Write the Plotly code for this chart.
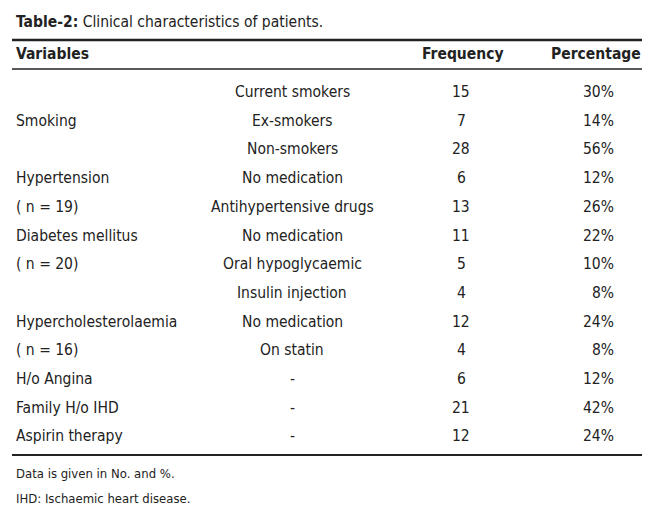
import plotly.graph_objects as go

title_bold = "Table-2:"
title_rest = " Clinical characteristics of patients."
headers = ["Variables", "Frequency", "Percentage"]
groups = ["Smoking", "Hypertension", "( n = 19)", "Diabetes mellitus", "( n = 20)",
          "Hypercholesterolaemia", "( n = 16)", "H/o Angina", "Family H/o IHD", "Aspirin therapy"]
group_rows = [1, 3, 4, 5, 6, 8, 9, 10, 11, 12]
subcats = ["Current smokers", "Ex-smokers", "Non-smokers", "No medication", "Antihypertensive drugs",
           "No medication", "Oral hypoglycaemic", "Insulin injection", "No medication", "On statin",
           "-", "-", "-"]
freq = [15, 7, 28, 6, 13, 11, 5, 4, 12, 4, 6, 21, 12]
pct = [30, 14, 56, 12, 26, 22, 10, 8, 24, 8, 12, 42, 24]
notes = ["Data is given in No. and %.", "IHD: Ischaemic heart disease."]

FONT = "DejaVu Sans Condensed, Liberation Sans Narrow, sans-serif"
C = "#222222"
y0, dy = 84, 28.7
fig = go.Figure()
ann = []
def t(x, y, s, anchor="left", size=15.5):
    ann.append(dict(x=x, y=y, text=s, showarrow=False, xanchor=anchor, yanchor="middle",
                    font=dict(family=FONT, size=size, color=C)))
t(6, 14, f"<b>{title_bold}</b>{title_rest}")
t(6, 46, f"<b>{headers[0]}</b>")
t(455, 46, f"<b>{headers[1]}</b>", "center")
t(588, 46, f"<b>{headers[2]}</b>", "center")
for g, r in zip(groups, group_rows):
    t(6, y0 + r * dy, g)
for i, (s, f, p) in enumerate(zip(subcats, freq, pct)):
    y = y0 + i * dy
    t(284, y, s, "center")
    t(453, y, str(f), "center")
    t(608, y, f"{p}%", "right")
t(6, 465, notes[0], size=13)
t(6, 490, notes[1], size=13)
fig.update_layout(annotations=ann, width=650, height=505, margin=dict(l=0, r=0, t=0, b=0),
                  plot_bgcolor="white", paper_bgcolor="white", showlegend=False,
                  xaxis=dict(range=[0, 650], visible=False),
                  yaxis=dict(range=[505, 0], visible=False))
for y, w in [(32, 2.5), (61, 1.5), (447, 2)]:
    fig.add_shape(type="line", x0=4, x1=646, y0=y, y1=y, line=dict(color=C, width=w))
fig.write_html("out.html")
